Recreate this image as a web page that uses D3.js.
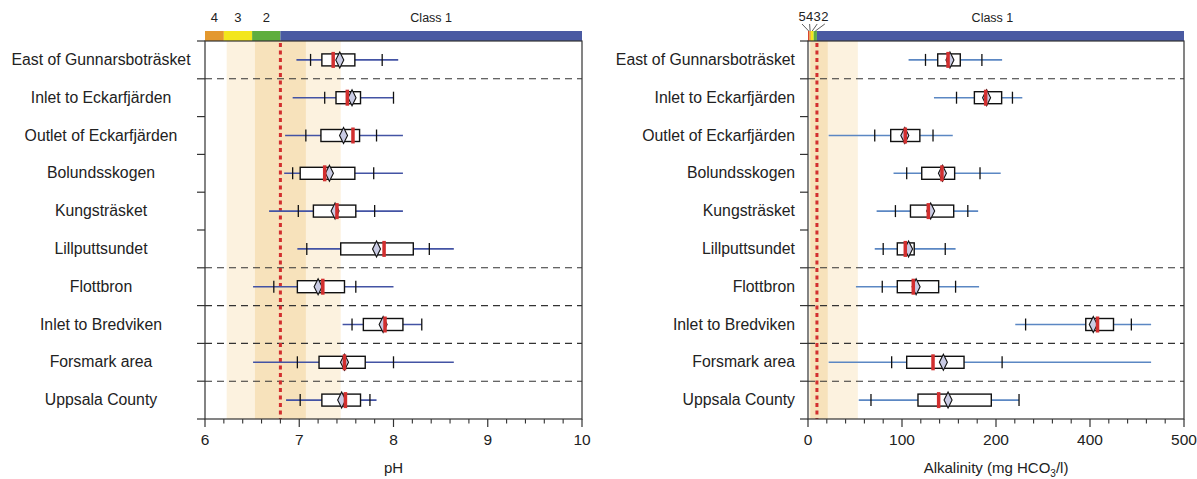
<!DOCTYPE html>
<html>
<head>
<meta charset="utf-8">
<script src="https://cdn.jsdelivr.net/npm/d3@7"></script>
<style>
  html, body { margin: 0; padding: 0; background: #fff; }
  svg { display: block; font-family: 'Liberation Sans', Arial, sans-serif; }
</style>
</head>
<body>
<svg id="chart"></svg>
<script>
// Sampling sites, top to bottom.
const sites = [
  'East of Gunnarsboträsket', 'Inlet to Eckarfjärden', 'Outlet of Eckarfjärden',
  'Bolundsskogen', 'Kungsträsket', 'Lillputtsundet', 'Flottbron',
  'Inlet to Bredviken', 'Forsmark area', 'Uppsala County',
];
// A dashed separator is drawn below these rows.
const groupEnds = ['East of Gunnarsboträsket', 'Lillputtsundet', 'Flottbron', 'Inlet to Bredviken', 'Forsmark area'];

// pH statistics per site: min, low tick, Q1, median (red), mean (diamond), Q3, high tick, max.
const phMin    = [6.97, 6.93, 6.85, 6.84, 6.68, 6.98, 6.51, 7.46, 6.51, 6.86];
const phLow    = [7.12, 7.27, 7.07, 6.93, 6.99, 7.08, 6.73, 7.56, 6.98, 7.01];
const phQ1     = [7.24, 7.39, 7.23, 7.01, 7.15, 7.44, 6.98, 7.68, 7.21, 7.24];
const phMedian = [7.36, 7.51, 7.57, 7.27, 7.40, 7.90, 7.25, 7.91, 7.48, 7.49];
const phMean   = [7.43, 7.56, 7.47, 7.32, 7.38, 7.82, 7.20, 7.89, 7.48, 7.45];
const phQ3     = [7.59, 7.65, 7.64, 7.59, 7.60, 8.21, 7.48, 8.10, 7.70, 7.65];
const phHigh   = [7.88, 8.00, 7.82, 7.79, 7.80, 8.38, 7.60, 8.30, 8.00, 7.75];
const phMax    = [8.05, 8.00, 8.10, 8.10, 8.10, 8.64, 8.00, 8.30, 8.64, 7.82];

// Alkalinity (mg HCO3/l), same order.
const alkMin    = [107, 134, 22, 91, 73, 71, 51, 241, 22, 54];
const alkLow    = [125, 158, 71, 105, 93, 80, 79, 263, 89, 67];
const alkQ1     = [138, 177, 88, 121, 109, 95, 95, 391, 105, 117];
const alkMedian = [149, 189, 103.5, 142.5, 128, 103.5, 112, 408, 133, 139];
const alkMean   = [151, 190, 103, 143, 130.5, 107, 115, 403.5, 144, 149];
const alkQ3     = [162, 212, 119, 156, 155, 113, 139, 425, 166, 195];
const alkHigh   = [185, 235, 133, 183, 170, 146, 157, 444, 213, 249];
const alkMax    = [213, 256, 154, 210, 181, 157, 182, 465, 465, 249];

// Axis ticks.
const phTicks = [6, 7, 8, 9, 10];
const alkTicks = [0, 100, 200, 400, 500];

// Water quality classes (lower bounds ... upper bound) and labels.
const phClassBreaks = [6.0, 6.2, 6.5, 6.8, 10];
const phClassLabels = ['4', '3', '2', 'Class 1'];
const alkClassBreaks = [0, 1.5, 3, 6, 9.5, 500];
const alkClassLabels = ['5', '4', '3', '2', 'Class 1'];
const phLimit = 6.8;
const alkLimit = 9.5;

// Shaded reference ranges: [outer lo, outer hi], [inner lo, inner hi].
const phRanges = [[6.23, 7.44], [6.53, 7.07]];
const alkRanges = [[1, 53], [2.5, 21]];

const width = 1197;
const height = 479;
const plotTop = 41;
const plotBottom = 419;

const classColors = {
  '5': '#d9452e', '4': '#e3982f', '3': '#f3e61c', '2': '#5fae3e', 'Class 1': '#4a5aa2',
};

const svg = d3.select('#chart')
  .attr('width', width)
  .attr('height', height)
  .attr('viewBox', `0 0 ${width} ${height}`);

const y = d3.scaleBand().domain(sites).range([plotTop, plotBottom]);

function stats(mins, lows, q1s, meds, means, q3s, highs, maxs) {
  return sites.map((site, i) => ({
    site, min: mins[i], low: lows[i], q1: q1s[i], median: meds[i],
    mean: means[i], q3: q3s[i], high: highs[i], max: maxs[i],
  }));
}

function drawPanel(cfg) {
  const { x, rows } = cfg;
  const [x0, x1] = [x.range()[0], x.range()[x.range().length - 1]];
  const g = svg.append('g');

  // Shaded ranges.
  g.selectAll('rect.range')
    .data(cfg.ranges)
    .join('rect')
    .attr('x', (d) => x(d[0]))
    .attr('width', (d) => x(d[1]) - x(d[0]))
    .attr('y', plotTop)
    .attr('height', plotBottom - plotTop)
    .attr('fill', (d, i) => (i === 0 ? '#fcf2df' : '#f7e2bb'));

  // Class bar above the plot.
  const classes = cfg.classLabels.map((label, i) => ({
    label, lo: cfg.classBreaks[i], hi: cfg.classBreaks[i + 1],
  }));
  g.selectAll('rect.cls')
    .data(classes)
    .join('rect')
    .attr('x', (d) => x(d.lo))
    .attr('width', (d) => x(d.hi) - x(d.lo))
    .attr('y', plotTop - 10)
    .attr('height', 10)
    .attr('fill', (d) => classColors[d.label]);

  if (cfg.compactLabels) {
    // Narrow classes: digits side by side with leader lines.
    const small = classes.filter((d) => d.label !== 'Class 1');
    small.forEach((d, i) => {
      const tx = x0 - 6 + i * 7.6;
      const cx = (x(d.lo) + x(d.hi)) / 2;
      g.append('text')
        .attr('x', tx).attr('y', 21)
        .attr('text-anchor', 'middle')
        .attr('font-size', 13)
        .attr('fill', '#222')
        .text(d.label);
      g.append('line')
        .attr('x1', tx).attr('y1', 24)
        .attr('x2', cx).attr('y2', plotTop - 10)
        .attr('stroke', '#333').attr('stroke-width', 0.8);
    });
    const c1 = classes[classes.length - 1];
    g.append('text')
      .attr('x', (x(c1.lo) + x(c1.hi)) / 2 - 8).attr('y', 22)
      .attr('text-anchor', 'middle').attr('font-size', 12.5).attr('fill', '#222')
      .text(c1.label);
  } else {
    g.selectAll('text.cls')
      .data(classes)
      .join('text')
      .attr('x', (d) => (x(d.lo) + x(d.hi)) / 2)
      .attr('y', 22)
      .attr('text-anchor', 'middle')
      .attr('font-size', (d) => (d.label === 'Class 1' ? 12.5 : 13))
      .attr('fill', '#222')
      .text((d) => d.label);
  }

  // Group separators.
  g.selectAll('line.sep')
    .data(groupEnds)
    .join('line')
    .attr('x1', x0).attr('x2', x1)
    .attr('y1', (d) => y(d) + y.bandwidth())
    .attr('y2', (d) => y(d) + y.bandwidth())
    .attr('stroke', '#333')
    .attr('stroke-width', 1.1)
    .attr('stroke-dasharray', '7,5');

  // Limit line.
  g.append('line')
    .attr('x1', x(cfg.limit)).attr('x2', x(cfg.limit))
    .attr('y1', plotTop + 2).attr('y2', plotBottom)
    .attr('stroke', '#d22f2f')
    .attr('stroke-width', 3)
    .attr('stroke-dasharray', '4,3.5');

  // Box plots.
  const row = g.selectAll('g.row')
    .data(rows)
    .join('g')
    .attr('transform', (d) => `translate(0, ${y(d.site) + y.bandwidth() / 2})`);

  row.append('line')
    .attr('x1', (d) => x(d.min)).attr('x2', (d) => x(d.max))
    .attr('stroke', cfg.whiskerColor)
    .attr('stroke-width', 1.6);

  ['low', 'high'].forEach((k) => {
    row.append('line')
      .attr('x1', (d) => x(d[k])).attr('x2', (d) => x(d[k]))
      .attr('y1', -6).attr('y2', 6)
      .attr('stroke', '#111')
      .attr('stroke-width', 1.3);
  });

  row.append('rect')
    .attr('x', (d) => x(d.q1))
    .attr('width', (d) => x(d.q3) - x(d.q1))
    .attr('y', -6).attr('height', 12)
    .attr('fill', '#fff')
    .attr('stroke', '#111')
    .attr('stroke-width', 1.4);

  row.append('path')
    .attr('d', (d) => {
      const cx = x(d.mean);
      return `M${cx - 4},0L${cx},-8L${cx + 4},0L${cx},8Z`;
    })
    .attr('fill', '#c9cbe4')
    .attr('stroke', '#111')
    .attr('stroke-width', 1.1);

  row.append('rect')
    .attr('x', (d) => x(d.median) - 1.75)
    .attr('width', 3.5)
    .attr('y', -8).attr('height', 16)
    .attr('fill', '#d22f2f');

  // Frame.
  g.append('rect')
    .attr('x', x0).attr('y', plotTop)
    .attr('width', x1 - x0).attr('height', plotBottom - plotTop)
    .attr('fill', 'none')
    .attr('stroke', '#333')
    .attr('stroke-width', 1.2);

  // Row ticks on the left axis.
  const bounds = sites.map((s) => y(s)).concat([plotBottom]);
  g.selectAll('line.ytick')
    .data(bounds)
    .join('line')
    .attr('x1', x0 - 8).attr('x2', x0)
    .attr('y1', (d) => d).attr('y2', (d) => d)
    .attr('stroke', '#333')
    .attr('stroke-width', 1.2);

  // Row labels.
  g.selectAll('text.site')
    .data(sites)
    .join('text')
    .attr('x', cfg.labelX)
    .attr('y', (d) => y(d) + y.bandwidth() / 2 + 5)
    .attr('text-anchor', cfg.labelAnchor)
    .attr('font-size', 15.8)
    .attr('fill', '#222')
    .text((d) => d);

  // X axis: major ticks with labels, 4 minor ticks between each pair.
  const ticks = cfg.ticks;
  const minor = [];
  for (let i = 0; i < ticks.length - 1; i += 1) {
    const a = x(ticks[i]);
    const b = x(ticks[i + 1]);
    for (let k = 1; k < 5; k += 1) minor.push(a + ((b - a) * k) / 5);
  }
  g.selectAll('line.minor')
    .data(minor)
    .join('line')
    .attr('x1', (d) => d).attr('x2', (d) => d)
    .attr('y1', plotBottom).attr('y2', plotBottom + 4.5)
    .attr('stroke', '#333').attr('stroke-width', 1.1);
  g.selectAll('line.major')
    .data(ticks)
    .join('line')
    .attr('x1', (d) => x(d)).attr('x2', (d) => x(d))
    .attr('y1', plotBottom).attr('y2', plotBottom + 8)
    .attr('stroke', '#333').attr('stroke-width', 1.2);
  g.selectAll('text.tick')
    .data(ticks)
    .join('text')
    .attr('x', (d) => x(d))
    .attr('y', plotBottom + 26)
    .attr('text-anchor', 'middle')
    .attr('font-size', 15.5)
    .attr('fill', '#222')
    .text((d) => d);

  // Axis title.
  const title = g.append('text')
    .attr('x', (x0 + x1) / 2)
    .attr('y', 473)
    .attr('text-anchor', 'middle')
    .attr('font-size', 15)
    .attr('fill', '#222');
  cfg.title(title);
}

// pH panel.
drawPanel({
  x: d3.scaleLinear().domain([6, 10]).range([205, 582]),
  rows: stats(phMin, phLow, phQ1, phMedian, phMean, phQ3, phHigh, phMax),
  ranges: phRanges,
  classBreaks: phClassBreaks,
  classLabels: phClassLabels,
  limit: phLimit,
  ticks: phTicks,
  whiskerColor: '#4353a4',
  labelX: 101,
  labelAnchor: 'middle',
  title: (t) => t.text('pH'),
});

// Alkalinity panel: ticks are equally spaced, so the scale is piecewise linear.
const alkX = d3.scaleLinear()
  .domain(alkTicks)
  .range(alkTicks.map((d, i) => 808 + (i * (1184 - 808)) / (alkTicks.length - 1)));

drawPanel({
  x: alkX,
  rows: stats(alkMin, alkLow, alkQ1, alkMedian, alkMean, alkQ3, alkHigh, alkMax),
  ranges: alkRanges,
  classBreaks: alkClassBreaks,
  classLabels: alkClassLabels,
  compactLabels: true,
  limit: alkLimit,
  ticks: alkTicks,
  whiskerColor: '#5b87c3',
  labelX: 795,
  labelAnchor: 'end',
  title: (t) => {
    t.append('tspan').text('Alkalinity (mg HCO');
    t.append('tspan').attr('font-size', 10).attr('dy', 4).text('3');
    t.append('tspan').attr('dy', -4).text('/l)');
  },
});
</script>
</body>
</html>
